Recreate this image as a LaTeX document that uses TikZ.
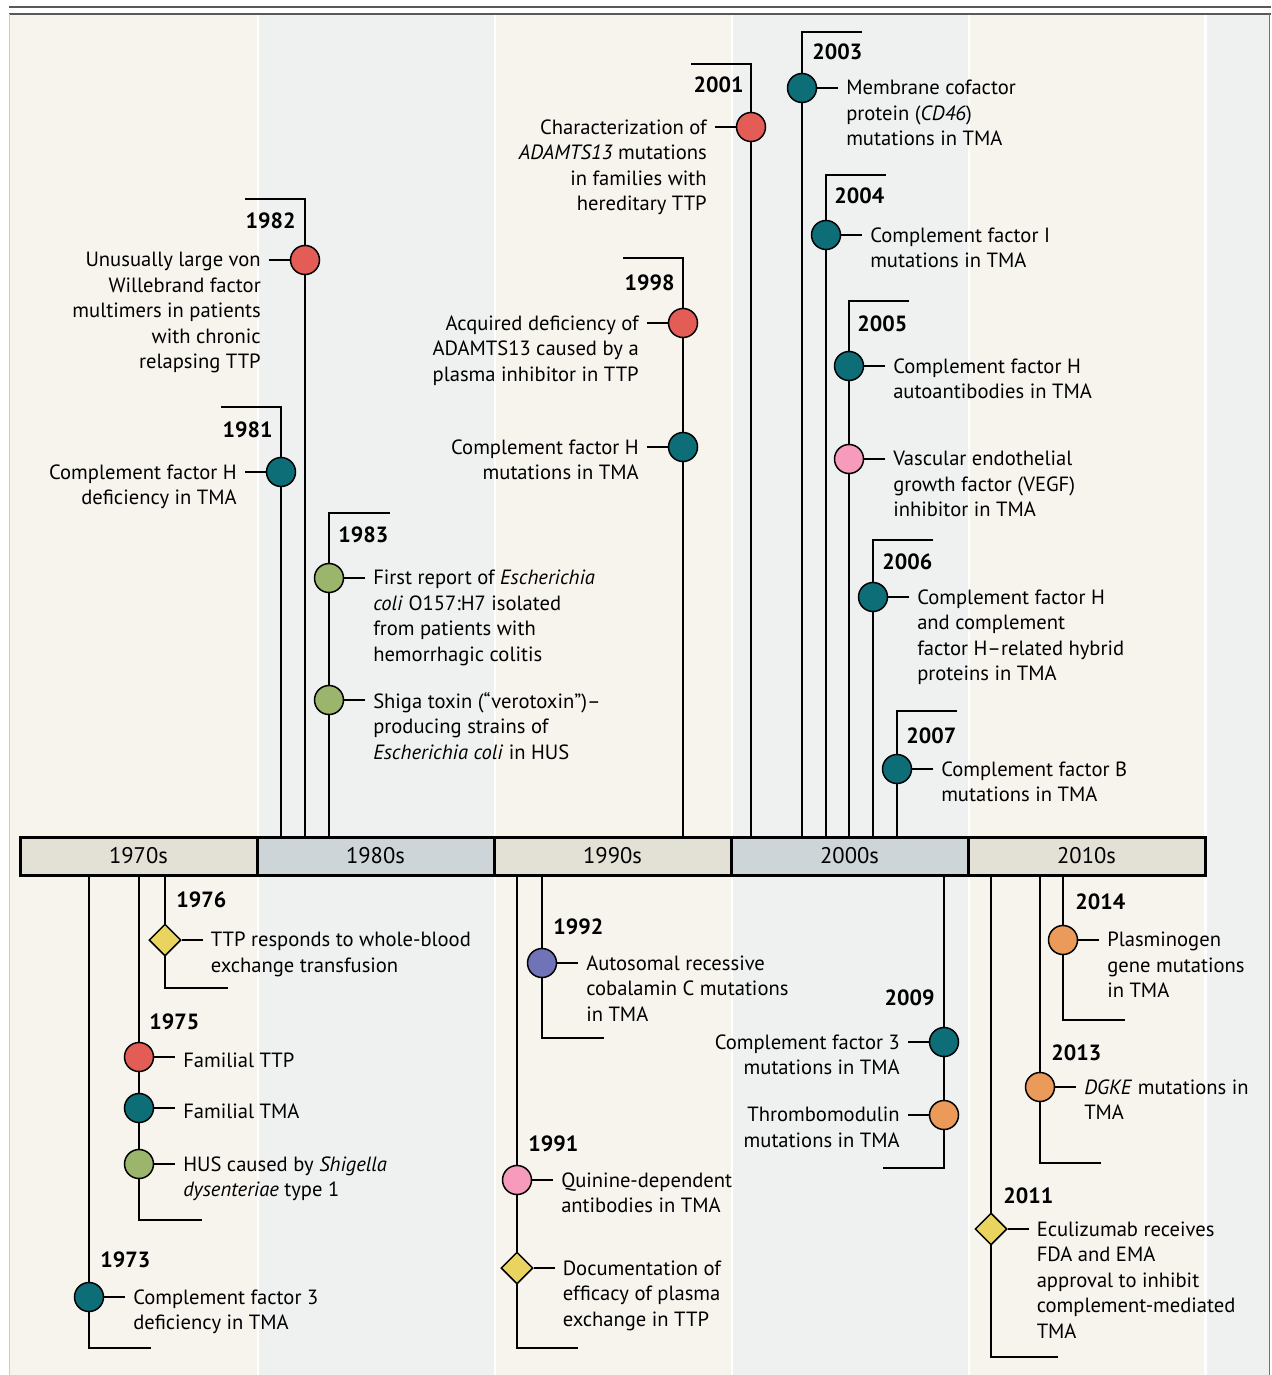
\documentclass[tikz,border=0pt]{standalone}
\usepackage{fontspec}
\setmainfont{PT Sans}
\usepackage{tikz}
\usetikzlibrary{shapes.geometric}
\definecolor{bgcream}{HTML}{F7F4EE}
\definecolor{bggrey}{HTML}{EFF1F0}
\definecolor{barbeige}{HTML}{E3E0D5}
\definecolor{barblue}{HTML}{CDD5D8}
\definecolor{cteal}{HTML}{0D6E78}
\definecolor{cred}{HTML}{E35D56}
\definecolor{cgreen}{HTML}{9BB56C}
\definecolor{cyellow}{HTML}{E9D45F}
\definecolor{cpink}{HTML}{F69BBB}
\definecolor{corange}{HTML}{EB9A5A}
\definecolor{cpurple}{HTML}{7073B8}
\newcommand{\evfont}{\fontsize{10.3}{12.75}\selectfont}
\newcommand{\yrfont}{\fontsize{11}{13}\selectfont\bfseries}
\newcommand{\decfont}{\fontsize{11.3}{13}\selectfont}

\begin{document}
\begin{tikzpicture}[x=0.5pt, y=-0.5pt,
		stem/.style={line width=0.9pt},
		decade/.style={draw, line width=1.5pt, minimum width=118.5pt, minimum height=19pt, inner sep=0pt, font=\decfont},
		dot/.style={circle, draw, line width=0.75pt, minimum size=14.5pt, inner sep=0pt},
		gem/.style={diamond, draw, line width=0.75pt, minimum width=16pt, minimum height=16pt, inner sep=0pt, fill=cyellow},
		rtext/.style={font=\evfont, align=left, inner sep=0pt, outer xsep=4pt, outer ysep=0pt, anchor=north west, xshift=10.5pt, yshift=3.8pt, execute at begin node=\strut},
		ltext/.style={font=\evfont, align=right, inner sep=0pt, outer xsep=4pt, outer ysep=0pt, anchor=north east, xshift=-10.5pt, yshift=3.8pt, execute at begin node=\strut},
		year/.style={font=\yrfont, inner sep=0pt}]
		\useasboundingbox (0,0) rectangle (1272,1375);
		% background bands and frame
		\fill[bgcream] (10,15) rectangle (257,1375);
		\fill[bggrey] (259,15) rectangle (494,1375);
		\fill[bgcream] (496,15) rectangle (731,1375);
		\fill[bggrey] (733,15) rectangle (968,1375);
		\fill[bgcream] (970,15) rectangle (1204,1375);
		\fill[bggrey] (1207,15) rectangle (1269,1375);
		\draw[black!65, line width=1pt] (9,7) -- (1271,7);
		\draw[black!65, line width=1pt] (9,14) -- (1271,14);
		\draw[black!55, line width=0.75pt] (1269.5,14) -- (1269.5,1375);
		\draw[black!20, line width=0.5pt] (9.5,14) -- (9.5,1375);
		% the decades
		\node[decade, fill=barbeige] (d70) at (138.5,856) {1970s};
		\node[decade, fill=barblue] (d80) at (375.5,856) {1980s};
		\node[decade, fill=barbeige] (d90) at (612.5,856) {1990s};
		\node[decade, fill=barblue] (d00) at (849.5,856) {2000s};
		\node[decade, fill=barbeige] (d10) at (1086.5,856) {2010s};
		% stems above the bar
		\coordinate (t81) at (281,407); \coordinate (e81) at (221,407);
		\coordinate (t82) at (305,199); \coordinate (e82) at (245,199);
		\coordinate (t83) at (329,513); \coordinate (e83) at (390,513);
		\coordinate (t98) at (683,258); \coordinate (e98) at (623,258);
		\coordinate (t01) at (751,64); \coordinate (e01) at (691,64);
		\coordinate (t03) at (802,32); \coordinate (e03) at (862,32);
		\coordinate (t04) at (826,175); \coordinate (e04) at (886,175);
		\coordinate (t05) at (849,301); \coordinate (e05) at (909,301);
		\coordinate (t06) at (873,540); \coordinate (e06) at (933,540);
		\coordinate (t07) at (897,711); \coordinate (e07) at (957,711);
		\draw[stem] (t81 |- d80.north) -- (t81) -- (e81);
		\draw[stem] (t82 |- d80.north) -- (t82) -- (e82);
		\draw[stem] (t83 |- d80.north) -- (t83) -- (e83);
		\draw[stem] (t98 |- d90.north) -- (t98) -- (e98);
		\draw[stem] (t01 |- d00.north) -- (t01) -- (e01);
		\draw[stem] (t03 |- d00.north) -- (t03) -- (e03);
		\draw[stem] (t04 |- d00.north) -- (t04) -- (e04);
		\draw[stem] (t05 |- d00.north) -- (t05) -- (e05);
		\draw[stem] (t06 |- d00.north) -- (t06) -- (e06);
		\draw[stem] (t07 |- d00.north) -- (t07) -- (e07);
		% stems below the bar
		\coordinate (t73) at (89,1348); \coordinate (e73) at (151,1348);
		\coordinate (t75) at (139,1220); \coordinate (e75) at (202,1220);
		\coordinate (t76) at (165,988); \coordinate (e76) at (228,988);
		\coordinate (t91) at (517,1348); \coordinate (e91) at (578,1348);
		\coordinate (t92) at (542,1038); \coordinate (e92) at (604,1038);
		\coordinate (t09) at (944,1168); \coordinate (e09) at (883,1168);
		\coordinate (t11) at (991,1357); \coordinate (e11) at (1058,1357);
		\coordinate (t13) at (1040,1163); \coordinate (e13) at (1101,1163);
		\coordinate (t14) at (1063,1020); \coordinate (e14) at (1125,1020);
		\draw[stem] (t73 |- d70.south) -- (t73) -- (e73);
		\draw[stem] (t75 |- d70.south) -- (t75) -- (e75);
		\draw[stem] (t76 |- d70.south) -- (t76) -- (e76);
		\draw[stem] (t91 |- d90.south) -- (t91) -- (e91);
		\draw[stem] (t92 |- d90.south) -- (t92) -- (e92);
		\draw[stem] (t09 |- d00.south) -- (t09) -- (e09);
		\draw[stem] (t11 |- d10.south) -- (t11) -- (e11);
		\draw[stem] (t13 |- d10.south) -- (t13) -- (e13);
		\draw[stem] (t14 |- d10.south) -- (t14) -- (e14);
		% markers
		\node[dot, fill=cteal] (m81) at (281,472) {};
		\node[dot, fill=cred] (m82) at (305,260) {};
		\node[dot, fill=cgreen] (m83a) at (329,578) {};
		\node[dot, fill=cgreen] (m83b) at (329,700) {};
		\node[dot, fill=cred] (m98a) at (683,323) {};
		\node[dot, fill=cteal] (m98b) at (683,447) {};
		\node[dot, fill=cred] (m01) at (751,127) {};
		\node[dot, fill=cteal] (m03) at (802,88) {};
		\node[dot, fill=cteal] (m04) at (826,235) {};
		\node[dot, fill=cteal] (m05a) at (849,366) {};
		\node[dot, fill=cpink] (m05b) at (849,459) {};
		\node[dot, fill=cteal] (m06) at (873,597) {};
		\node[dot, fill=cteal] (m07) at (897,769) {};
		\node[dot, fill=cteal] (m73) at (89,1297) {};
		\node[dot, fill=cred] (m75a) at (139,1057) {};
		\node[dot, fill=cteal] (m75b) at (139,1108) {};
		\node[dot, fill=cgreen] (m75c) at (139,1164) {};
		\node[gem] (m76) at (165,940) {};
		\node[dot, fill=cpink] (m91a) at (517,1180) {};
		\node[gem] (m91b) at (517,1268) {};
		\node[dot, fill=cpurple] (m92) at (542,963) {};
		\node[dot, fill=cteal] (m09a) at (944,1042) {};
		\node[dot, fill=corange] (m09b) at (944,1115) {};
		\node[gem] (m11) at (991,1229) {};
		\node[dot, fill=corange] (m13) at (1040,1087) {};
		\node[dot, fill=corange] (m14) at (1063,940) {};
		% events
		\node[ltext] (x81) at (m81.west) {Complement factor H\\deficiency in TMA};
		\node[ltext] (x82) at (m82.west) {Unusually large von\\Willebrand factor\\multimers in patients\\with chronic\\relapsing TTP};
		\node[rtext] (x83a) at (m83a.east) {First report of \textit{Escherichia}\\\textit{coli} O157:H7 isolated\\from patients with\\hemorrhagic colitis};
		\node[rtext] (x83b) at (m83b.east) {Shiga toxin (“verotoxin”)–\\producing strains of\\\textit{Escherichia coli} in HUS};
		\node[ltext] (x98a) at (m98a.west) {Acquired deficiency of\\ADAMTS13 caused by a\\plasma inhibitor in TTP};
		\node[ltext] (x98b) at (m98b.west) {Complement factor H\\mutations in TMA};
		\node[ltext] (x01) at (m01.west) {Characterization of\\\textit{ADAMTS13} mutations\\in families with\\hereditary TTP};
		\node[rtext] (x03) at (m03.east) {Membrane cofactor\\protein (\textit{CD46})\\mutations in TMA};
		\node[rtext] (x04) at (m04.east) {Complement factor I\\mutations in TMA};
		\node[rtext] (x05a) at (m05a.east) {Complement factor H\\autoantibodies in TMA};
		\node[rtext] (x05b) at (m05b.east) {Vascular endothelial\\growth factor (VEGF)\\inhibitor in TMA};
		\node[rtext] (x06) at (m06.east) {Complement factor H\\and complement\\factor H–related hybrid\\proteins in TMA};
		\node[rtext] (x07) at (m07.east) {Complement factor B\\mutations in TMA};
		\node[rtext] (x73) at (m73.east) {Complement factor 3\\deficiency in TMA};
		\node[rtext] (x75a) at (m75a.east) {Familial TTP};
		\node[rtext] (x75b) at (m75b.east) {Familial TMA};
		\node[rtext] (x75c) at (m75c.east) {HUS caused by \textit{Shigella}\\\textit{dysenteriae} type 1};
		\node[rtext] (x76) at (m76.east) {TTP responds to whole-blood\\exchange transfusion};
		\node[rtext] (x91a) at (m91a.east) {Quinine-dependent\\antibodies in TMA};
		\node[rtext] (x91b) at (m91b.east) {Documentation of\\efficacy of plasma\\exchange in TTP};
		\node[rtext] (x92) at (m92.east) {Autosomal recessive\\cobalamin C mutations\\in TMA};
		\node[ltext] (x09a) at (m09a.west) {Complement factor 3\\mutations in TMA};
		\node[ltext] (x09b) at (m09b.west) {Thrombomodulin\\mutations in TMA};
		\node[rtext] (x11) at (m11.east) {Eculizumab receives\\FDA and EMA\\approval to inhibit\\complement-mediated\\TMA};
		\node[rtext] (x13) at (m13.east) {\textit{DGKE} mutations in\\TMA};
		\node[rtext] (x14) at (m14.east) {Plasminogen\\gene mutations\\in TMA};
		% ticks from markers to texts
		\path[stem]
		(m81.west) edge (m81 -| x81.east)
		(m82.west) edge (m82 -| x82.east)
		(m83a.east) edge (m83a -| x83a.west)
		(m83b.east) edge (m83b -| x83b.west)
		(m98a.west) edge (m98a -| x98a.east)
		(m98b.west) edge (m98b -| x98b.east)
		(m01.west) edge (m01 -| x01.east)
		(m03.east) edge (m03 -| x03.west)
		(m04.east) edge (m04 -| x04.west)
		(m05a.east) edge (m05a -| x05a.west)
		(m05b.east) edge (m05b -| x05b.west)
		(m06.east) edge (m06 -| x06.west)
		(m07.east) edge (m07 -| x07.west)
		(m73.east) edge (m73 -| x73.west)
		(m75a.east) edge (m75a -| x75a.west)
		(m75b.east) edge (m75b -| x75b.west)
		(m75c.east) edge (m75c -| x75c.west)
		(m76.east) edge (m76 -| x76.west)
		(m91a.east) edge (m91a -| x91a.west)
		(m91b.east) edge (m91b -| x91b.west)
		(m92.east) edge (m92 -| x92.west)
		(m09a.west) edge (m09a -| x09a.east)
		(m09b.west) edge (m09b -| x09b.east)
		(m11.east) edge (m11 -| x11.west)
		(m13.east) edge (m13 -| x13.west)
		(m14.east) edge (m14 -| x14.west);
		% years
		\node[year, anchor=base east] (y81) at (273,437) {1981};
		\node[year, anchor=base east] (y82) at (296,228) {1982};
		\node[year, anchor=base west] (y83) at (338,542) {1983};
		\node[year, anchor=base east] (y98) at (675,290) {1998};
		\node[year, anchor=base east] (y01) at (744,93) {2001};
		\node[year, anchor=base west] (y03) at (812,60) {2003};
		\node[year, anchor=base west] (y04) at (834,204) {2004};
		\node[year, anchor=base west] (y05) at (857,331) {2005};
		\node[year, anchor=base west] (y06) at (882,569) {2006};
		\node[year, anchor=base west] (y07) at (906,743) {2007};
		\node[year, anchor=base west] (y73) at (100,1267) {1973};
		\node[year, anchor=base west] (y75) at (149,1029) {1975};
		\node[year, anchor=base west] (y76) at (176,907) {1976};
		\node[year, anchor=base west] (y91) at (528,1151) {1991};
		\node[year, anchor=base west] (y92) at (553,934) {1992};
		\node[year, anchor=base east] (y09) at (935,1005) {2009};
		\node[year, anchor=base west] (y11) at (1003,1203) {2011};
		\node[year, anchor=base west] (y13) at (1051,1060) {2013};
		\node[year, anchor=base west] (y14) at (1075,909) {2014};
	\end{tikzpicture}
\end{document}
